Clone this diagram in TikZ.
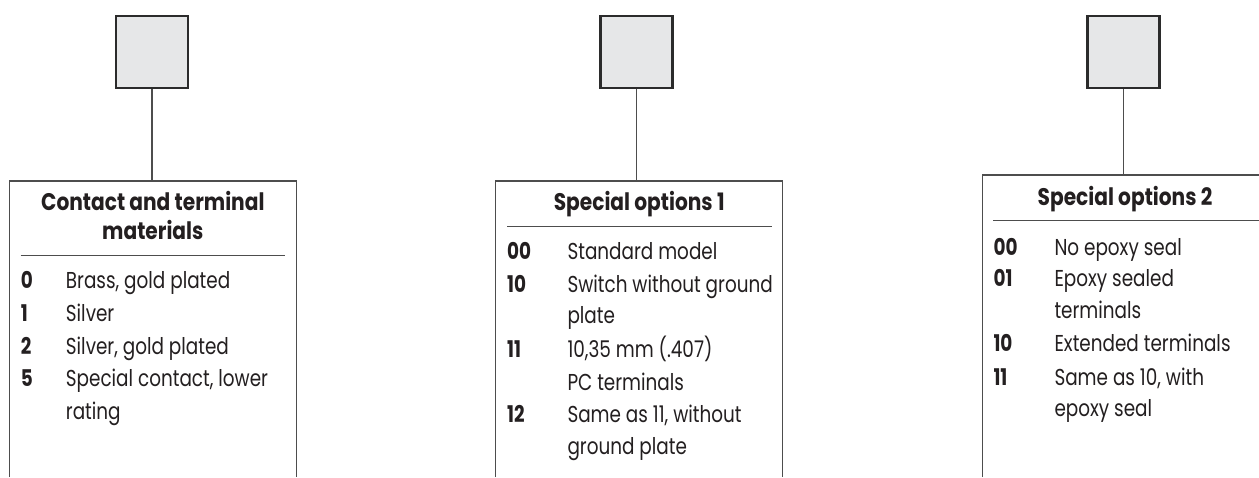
\documentclass[tikz,border=0pt]{standalone}
\usepackage{fontspec}
\setmainfont{Poppins}[FakeStretch=0.84]
\newfontfamily\itemfont{Poppins}[FakeStretch=0.80]
\newfontfamily\titlefont{Poppins}[FakeStretch=0.84]
\begin{document}
\begin{tikzpicture}[x=1pt,y=-1pt,
  keybox/.style={draw=sqline,fill=sqfill,line width=2.6pt,minimum size=72pt,inner sep=0pt},
  boxline/.style={draw=lngray,line width=1.1pt},
  sepline/.style={draw=lngray,line width=1.1pt},
  conn/.style={draw=lngray,line width=1.1pt},
  itemtxt/.style={anchor=base west,inner sep=0pt,text=txtcol,font=\itemfont\fontsize{23}{27}\selectfont},
  itemnum/.style={anchor=base west,inner sep=0pt,text=txtcol,font=\itemfont\fontsize{23}{27}\selectfont\bfseries},
  titletxt/.style={anchor=base,inner sep=0pt,text=txtcol,font=\titlefont\fontsize{24}{28}\selectfont\bfseries}]
\definecolor{sqline}{HTML}{2B2B2B}
\definecolor{sqfill}{HTML}{E6E7E8}
\definecolor{lngray}{HTML}{4D4D4D}
\definecolor{txtcol}{HTML}{231F20}
\useasboundingbox (0,0) rectangle (1259,477);

% ---------- Panel 1 ----------
\node[keybox] (sq1) at (152,52) {};
\coordinate (t1) at (152,181);
\draw[conn] (sq1.south) -- (t1);
\draw[boxline] (9.3,477) -- (9.3,181) -- (296.3,181) -- (296.3,477);
\node[titletxt] (ti1a) at (152.8,210.7) {Contact and terminal};
\node[titletxt] (ti1b) at (152.8,239.3) {materials};
\draw[sepline] (20.7,255.7) -- (285.3,255.7);
\node[itemnum] (n1a) at (20.7,288) {0};
\node[itemtxt] (d1a) at (65.7,288) {Brass, gold plated};
\node[itemnum] (n1b) at (20.7,321.7) {1};
\node[itemtxt] (d1b) at (65.7,321.7) {Silver};
\node[itemnum] (n1c) at (20.7,354.3) {2};
\node[itemtxt] (d1c) at (65.7,354.3) {Silver, gold plated};
\node[itemnum] (n1d) at (20.7,386.7) {5};
\node[itemtxt] (d1d) at (65.7,386.7) {Special contact, lower};
\node[itemtxt] (d1e) at (65.7,419) {rating};

% ---------- Panel 2 ----------
\node[keybox] (sq2) at (636.5,52) {};
\coordinate (t2) at (636.5,181);
\draw[conn] (sq2.south) -- (t2);
\draw[boxline] (495.7,477) -- (495.7,181) -- (782.7,181) -- (782.7,477);
\node[titletxt] (ti2) at (639.2,210.7) {Special options 1};
\draw[sepline] (507,226.3) -- (771.7,226.3);
\node[itemnum] (n2a) at (507,259.3) {00};
\node[itemtxt] (d2a) at (567.3,259.3) {Standard model};
\node[itemnum] (n2b) at (507,292.3) {10};
\node[itemtxt] (d2b) at (567.3,292.3) {Switch without ground};
\node[itemtxt] (d2c) at (567.3,323.3) {plate};
\node[itemnum] (n2d) at (507,357.3) {11};
\node[itemtxt] (d2d) at (567.3,357.3) {10,35 mm (.407)};
\node[itemtxt] (d2e) at (567.3,390) {PC terminals};
\node[itemnum] (n2f) at (507,422.7) {12};
\node[itemtxt] (d2f) at (567.3,422.7) {Same as 11, without};
\node[itemtxt] (d2g) at (567.3,454.3) {ground plate};

% ---------- Panel 3 ----------
\node[keybox] (sq3) at (1123.7,52) {};
\coordinate (t3) at (1123.7,175);
\draw[conn] (sq3.south) -- (t3);
\draw[boxline] (982.3,477) -- (982.3,175) -- (1262,175);
\node[titletxt] (ti3) at (1125,205) {Special options 2};
\draw[sepline] (993.3,220.7) -- (1262,220.7);
\node[itemnum] (n3a) at (993.3,255) {00};
\node[itemtxt] (d3a) at (1054.3,255) {No epoxy seal};
\node[itemnum] (n3b) at (993.3,286) {01};
\node[itemtxt] (d3b) at (1054.3,286) {Epoxy sealed};
\node[itemtxt] (d3c) at (1054.3,318.3) {terminals};
\node[itemnum] (n3d) at (993.3,351.7) {10};
\node[itemtxt] (d3d) at (1054.3,351.7) {Extended terminals};
\node[itemnum] (n3e) at (993.3,385) {11};
\node[itemtxt] (d3e) at (1054.3,385) {Same as 10, with};
\node[itemtxt] (d3f) at (1054.3,416.7) {epoxy seal};
\end{tikzpicture}
\end{document}
